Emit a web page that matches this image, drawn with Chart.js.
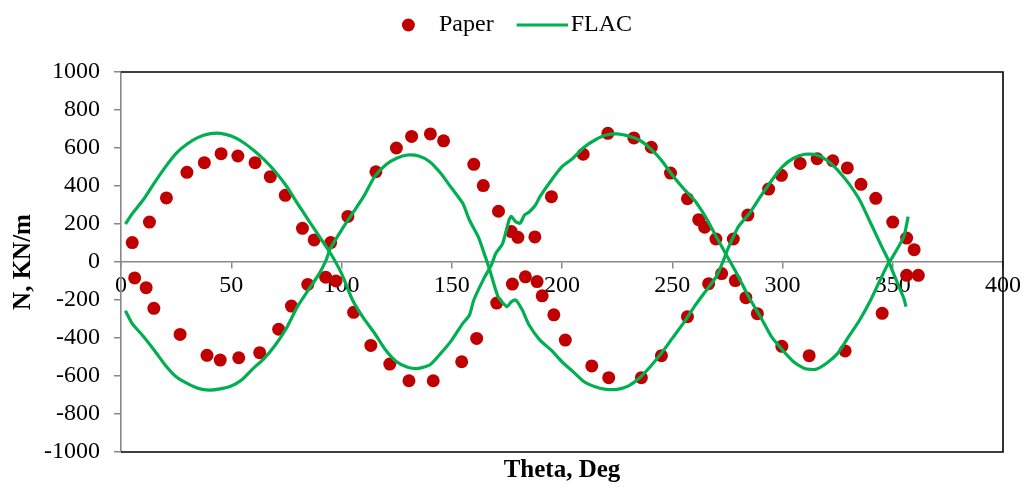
<!DOCTYPE html>
<html>
<head>
<meta charset="utf-8">
<script src="https://cdn.jsdelivr.net/npm/chart.js@4.4.1/dist/chart.umd.min.js"></script>
<style>
  html, body { margin: 0; padding: 0; background: #fff; }
  #wrap { width: 1024px; height: 487px; }
</style>
</head>
<body>
<div id="wrap"><canvas id="chart"></canvas></div>
<script>
// Paper results, upper and lower branches
const paperUpperTheta = [5.1, 12.9, 20.6, 29.9, 37.8, 45.4, 53.0, 60.8, 67.7, 74.5, 82.3, 87.6, 95.1,
  102.9, 115.6, 124.9, 131.8, 140.3, 146.3, 160.0, 164.3, 171.2, 177.0, 180.0, 187.7, 195.2,
  209.6, 220.8, 232.6, 240.5, 249.2, 256.9, 262.0, 264.7, 269.8, 277.7, 284.3, 293.7, 299.5,
  308.0, 315.7, 322.8, 329.4, 335.6, 342.3, 350.0, 356.3, 359.7];
const paperUpperN = [102, 210, 337, 472, 523, 570, 558, 523, 449, 351, 177, 116, 102,
  240, 475, 600, 661, 674, 638, 514, 402, 267, 160, 130, 132, 344,
  567, 677, 653, 604, 468, 333, 223, 183, 121, 121, 247, 384, 456,
  519, 544, 533, 495, 409, 335, 210, 126, 65];

const paperLowerTheta = [6.2, 11.4, 14.9, 26.8, 39.0, 45.0, 53.4, 62.9, 71.5, 77.3, 84.7, 92.8, 97.5,
  105.5, 113.3, 121.9, 130.6, 141.6, 154.5, 161.3, 170.4, 177.5, 183.4, 188.7, 191.0, 196.3,
  201.5, 213.5, 221.2, 236.0, 245.1, 256.9, 266.5, 272.4, 278.6, 283.4, 288.6, 299.7,
  312.1, 328.4, 345.2, 356.3, 361.6];
const paperLowerN = [-84, -135, -244, -381, -491, -516, -504, -477, -354, -232, -118, -80, -100,
  -265, -439, -537, -625, -625, -525, -402, -216, -116, -78, -103, -178, -278,
  -411, -547, -609, -609, -493, -288, -114, -61, -98, -188, -272, -444,
  -493, -468, -270, -70, -70];

// FLAC results, two traces
const flacATheta = [2, 5, 10, 15, 20, 25, 30, 35, 40, 45, 50, 55, 60, 65, 70, 75, 80, 85, 90, 95,
  100, 105, 110, 115, 120, 125, 130, 135, 140, 145, 150, 155, 158, 160, 165, 168, 170, 173, 176,
  177, 179, 181, 183, 185, 188, 190, 195, 200, 205, 210, 215, 220, 225, 230, 235, 240, 245, 250,
  255, 260, 265, 270, 275, 280, 285, 290, 295, 300, 305, 310, 315, 320, 325, 330, 335, 340, 345,
  348, 350, 355, 357];
const flacAN = [200, 253, 326, 414, 498, 572, 621, 656, 674, 677, 663, 633, 589, 537, 475, 400, 309, 221, 133, 46,
  -60, -200, -296, -375, -463, -525, -554, -560, -542, -481, -411, -323, -280, -200, -77, -15, 46, 95, 221,
  240, 212, 204, 247, 262, 300, 344, 428, 502, 546, 604, 642, 668, 674, 663, 642, 598, 537, 458,
  388, 326, 239, 133, 28, -77, -191, -288, -393, -463, -525, -560, -565, -533, -481, -393, -305, -200, -77,
  -7, 28, 133, 239];

const flacBTheta = [2, 5, 10, 15, 20, 25, 30, 35, 40, 45, 50, 55, 60, 65, 70, 75, 80, 85, 90, 93, 95,
  100, 105, 110, 115, 120, 125, 130, 135, 140, 145, 150, 155, 158, 162, 165, 167, 171, 175, 177,
  179, 182, 185, 190, 195, 200, 205, 210, 215, 220, 225, 230, 235, 240, 245, 250, 255, 260, 265,
  270, 273, 275, 280, 285, 290, 295, 300, 305, 310, 315, 320, 325, 330, 335, 340, 345, 348, 350,
  355, 356];
const flacBN = [-256, -323, -389, -463, -542, -604, -639, -665, -674, -668, -653, -618, -560, -507, -437, -349, -235, -147, -60, 10, 72,
  168, 256, 344, 449, 511, 546, 563, 558, 528, 467, 388, 309, 221, 133, 35, -33, -182, -235, -210,
  -200, -253, -330, -411, -463, -525, -577, -630, -656, -670, -670, -653, -612, -551, -481, -402, -323, -235, -156,
  -77, 2, 63, 186, 256, 344, 428, 502, 546, 567, 565, 537, 484, 414, 326, 204, 81, 10, -51,
  -191, -235];

const xTicks = [0, 50, 100, 150, 200, 250, 300, 350, 400];
const yTicks = [-1000, -800, -600, -400, -200, 0, 200, 400, 600, 800, 1000];

const RED = '#C00000';
const GREEN = '#00B050';
const AXIS_GREY = '#898989';

const toPoints = (xs, ys) => xs.map((x, i) => ({ x: x, y: ys[i] }));

// legend icons
function makeIcon(w, h, draw) {
  const c = document.createElement('canvas');
  c.width = w;
  c.height = h;
  draw(c.getContext('2d'));
  return c;
}
const dotIcon = makeIcon(52, 16, (g) => {
  g.fillStyle = RED;
  g.beginPath();
  g.arc(33.4, 8, 6.5, 0, Math.PI * 2);
  g.fill();
});
const lineIcon = makeIcon(70, 6, (g) => {
  g.strokeStyle = GREEN;
  g.lineWidth = 3.2;
  g.beginPath();
  g.moveTo(19, 3);
  g.lineTo(70, 3);
  g.stroke();
});

// black frame on top, right and bottom of the plot area
const plotFrame = {
  id: 'plotFrame',
  beforeDatasetsDraw(chart) {
    const { ctx, chartArea: { left, right, top, bottom } } = chart;
    ctx.save();
    ctx.strokeStyle = '#000';
    ctx.lineWidth = 1.6;
    ctx.beginPath();
    ctx.moveTo(left, top);
    ctx.lineTo(right, top);
    ctx.lineTo(right, bottom);
    ctx.lineTo(left, bottom);
    ctx.stroke();
    ctx.restore();
  },
};

// keep the legend band a fixed height
const legendBand = {
  id: 'legendBand',
  afterInit(chart) {
    const legend = chart.legend;
    const fit = legend.fit;
    legend.fit = function () {
      fit.call(this);
      this.height = 72;
    };
  },
};

Chart.defaults.font.family = '"Times New Roman", "Liberation Serif", serif';
Chart.defaults.color = '#000';

new Chart(document.getElementById('chart'), {
  type: 'scatter',
  data: {
    datasets: [
      {
        label: 'Paper',
        data: toPoints(paperUpperTheta, paperUpperN).concat(toPoints(paperLowerTheta, paperLowerN)),
        backgroundColor: RED,
        borderColor: RED,
        borderWidth: 0,
        pointRadius: 6.5,
        showLine: false,
        order: 1,
      },
      {
        label: 'FLAC',
        data: toPoints(flacATheta, flacAN),
        borderColor: GREEN,
        backgroundColor: GREEN,
        borderWidth: 3.2,
        pointRadius: 0,
        showLine: true,
        tension: 0.2,
        order: 0,
      },
      {
        label: 'FLAC',
        data: toPoints(flacBTheta, flacBN),
        borderColor: GREEN,
        backgroundColor: GREEN,
        borderWidth: 3.2,
        pointRadius: 0,
        showLine: true,
        tension: 0.2,
        order: 0,
      },
    ],
  },
  options: {
    responsive: true,
    maintainAspectRatio: false,
    animation: false,
    layout: { padding: { left: 0, right: 17, top: 0, bottom: 0 } },
    plugins: {
      tooltip: { enabled: false },
      legend: {
        position: 'top',
        labels: {
          font: { size: 24 },
          color: '#000',
          usePointStyle: true,
          pointStyleWidth: 52,
          padding: 13,
          filter: (item) => item.datasetIndex !== 2,
          sort: (a, b) => a.datasetIndex - b.datasetIndex,
          generateLabels(chart) {
            const items = Chart.defaults.plugins.legend.labels.generateLabels(chart);
            items.forEach((item) => {
              item.pointStyle = item.datasetIndex === 0 ? dotIcon : lineIcon;
            });
            return items;
          },
        },
      },
    },
    scales: {
      x: {
        type: 'linear',
        min: 0,
        max: 400,
        position: { y: 0 },
        afterBuildTicks: (scale) => {
          scale.ticks = xTicks.map((v) => ({ value: v }));
        },
        ticks: {
          font: { size: 24 },
          color: '#000',
          padding: 3,
          maxRotation: 0,
          autoSkip: false,
          callback: (v) => String(v),
        },
        grid: { drawOnChartArea: false, tickLength: 6, color: AXIS_GREY, lineWidth: 1.5 },
        border: { color: AXIS_GREY, width: 1.6 },
      },
      xTitle: {
        type: 'linear',
        axis: 'x',
        position: 'bottom',
        min: 0,
        max: 400,
        ticks: { display: false },
        grid: { display: false },
        border: { display: false },
        title: {
          display: true,
          text: 'Theta, Deg',
          font: { size: 25, weight: 'bold' },
          color: '#000',
          padding: { top: 0, bottom: 1 },
        },
        afterFit: (scale) => { scale.height = 35; },
      },
      y: {
        type: 'linear',
        min: -1000,
        max: 1000,
        afterBuildTicks: (scale) => {
          scale.ticks = yTicks.map((v) => ({ value: v }));
        },
        ticks: { font: { size: 24 }, color: '#000', padding: 14, callback: (v) => String(v) },
        grid: { drawOnChartArea: false, tickLength: 7, color: AXIS_GREY, lineWidth: 1.5 },
        border: { color: AXIS_GREY, width: 1.6 },
        title: {
          display: true,
          text: 'N, KN/m',
          font: { size: 25, weight: 'bold' },
          color: '#000',
          padding: { top: 9, bottom: 0 },
        },
        afterFit: (scale) => { scale.width = 121; },
      },
    },
  },
  plugins: [plotFrame, legendBand],
});
</script>
</body>
</html>
